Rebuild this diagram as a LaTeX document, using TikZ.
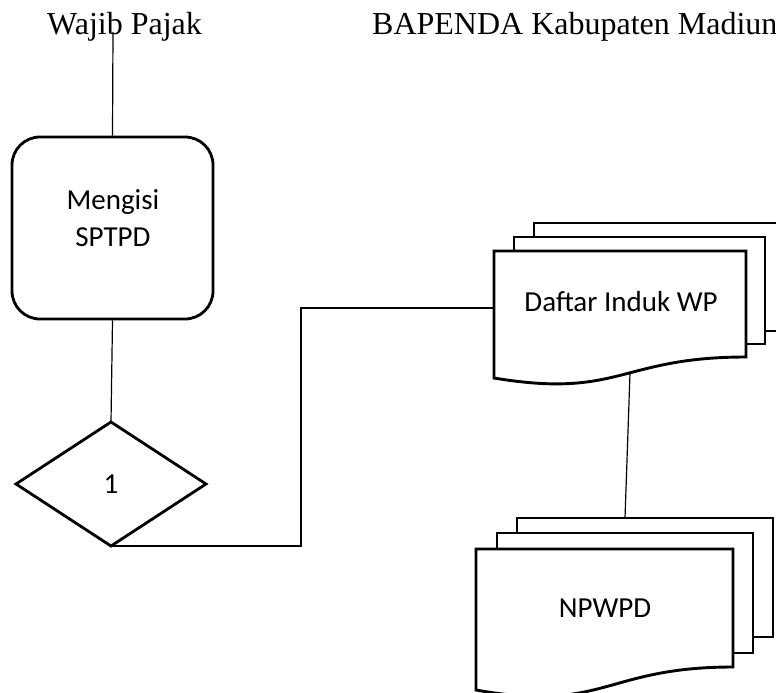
\documentclass[tikz,border=0pt]{standalone}
\usepackage{fontspec}
\setmainfont{Liberation Serif}
\newfontfamily\calibri{Carlito}
\begin{document}
\begin{tikzpicture}[x=1pt,y=-1pt,
  shapeline/.style={line width=2.8pt, line join=miter},
  docpage/.style={line width=2.9pt, fill=white, line join=miter},
  conn/.style={line width=1.2pt},
  headtxt/.style={font=\fontsize{32}{38}\selectfont, anchor=base west, inner sep=0pt},
  bodytxt/.style={font=\calibri\fontsize{29}{35}\selectfont, anchor=base, inner sep=0pt}]
\useasboundingbox (0,0) rectangle (776,693);
\clip (0,0) rectangle (776,693);

% headings
\node[headtxt] (wp) at (47,35) {Wajib Pajak};
\node[headtxt] (bp) at (372,35) {BAPENDA Kabupaten Madiun};

% rounded process box
\node[draw, shapeline, rounded corners=28pt, minimum width=201pt, minimum height=182pt, inner sep=0pt] (box) at (112.5,228) {};
\node[bodytxt] (t1) at (113,209) {Mengisi};
\node[bodytxt] (t2) at (113,246) {SPTPD};

% diamond connector
\coordinate (dT) at (111,422);
\coordinate (dR) at (206,484);
\coordinate (dB) at (111,546);
\coordinate (dL) at (16,484);
\draw[shapeline] (dT) -- (dR) -- (dB) -- (dL) -- cycle;
\node[bodytxt] (one) at (111,493) {1};

% Daftar Induk WP multidocument
\draw[docpage] (534,223) rectangle (790,331);
\draw[docpage] (514,237) rectangle (765,344);
\draw[docpage] (494,251) -- (746,251) -- (746,357) .. controls (620,357) and (620,399) .. (494,378) -- cycle;
\node[bodytxt] (daftar) at (621,311) {Daftar Induk WP};

% NPWPD multidocument
\draw[docpage] (517,518) rectangle (773,637);
\draw[docpage] (497,533) rectangle (753,653);
\draw[docpage] (476,549) -- (733,549) -- (733,667) .. controls (604.5,667) and (604.5,713) .. (476,690) -- cycle;
\node[bodytxt] (npwpd) at (605,617) {NPWPD};

% connectors
\coordinate (wptop) at (113,32);
\coordinate (jog) at (301,308);
\coordinate (daIn) at (494,308);
\coordinate (daBot) at (630,373);
\coordinate (npTop) at (625,518);
\draw[conn] (wptop) -- (box.north);
\draw[conn] (box.south) -- (dT);
\draw[conn] (dB) -| (jog) -- (daIn);
\draw[conn] (daBot) -- (npTop);
\end{tikzpicture}
\end{document}
